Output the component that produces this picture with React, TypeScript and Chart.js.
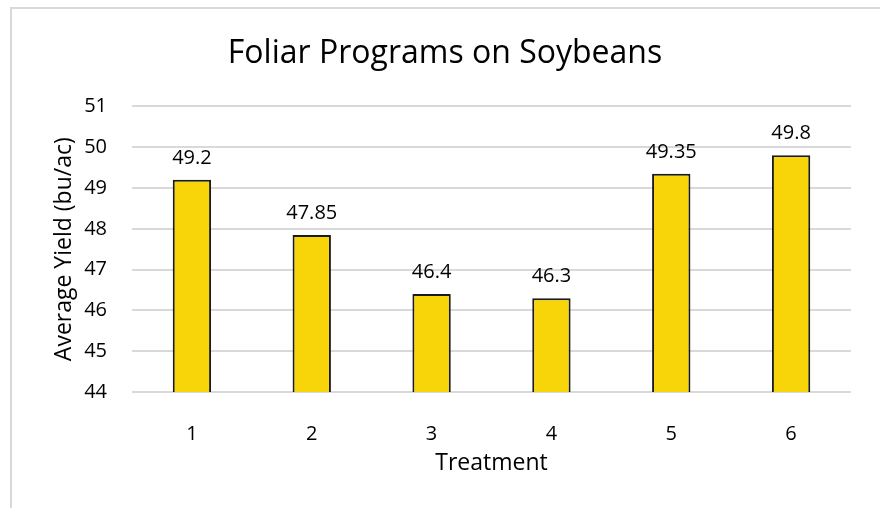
import React, { useEffect, useRef } from "react";
import { Chart, registerables } from "chart.js";

Chart.register(...registerables);

const categories = ["1", "2", "3", "4", "5", "6"];
const yieldValues = [49.2, 47.85, 46.4, 46.3, 49.35, 49.8];
const yMin = 44;
const yMax = 51;
const chartTitle = "Foliar Programs on Soybeans";
const xTitle = "Treatment";
const yTitle = "Average Yield (bu/ac)";

const FONT = "'Open Sans', 'Liberation Sans', sans-serif";
const TEXT = "#000000";

const framePlugin = {
  id: "frame",
  beforeDraw(chart: any) {
    const ctx = chart.ctx;
    ctx.save();
    ctx.fillStyle = "#ffffff";
    ctx.fillRect(0, 0, chart.width, chart.height);
    ctx.strokeStyle = "#d9d9d9";
    ctx.lineWidth = 2;
    ctx.beginPath();
    ctx.moveTo(11, chart.height);
    ctx.lineTo(11, 8);
    ctx.lineTo(chart.width, 8);
    ctx.stroke();
    ctx.restore();
  },
};

const valueLabels = {
  id: "valueLabels",
  afterDatasetsDraw(chart: any) {
    const ctx = chart.ctx;
    ctx.save();
    ctx.font = `20px ${FONT}`;
    ctx.fillStyle = TEXT;
    ctx.textAlign = "center";
    ctx.textBaseline = "alphabetic";
    chart.data.datasets.forEach((ds: any, di: number) => {
      const meta = chart.getDatasetMeta(di);
      meta.data.forEach((el: any, i: number) => {
        ctx.fillText(String(ds.data[i]), el.x, el.y - 16);
      });
    });
    ctx.restore();
  },
};

export default function App() {
  const ref = useRef<HTMLCanvasElement | null>(null);
  useEffect(() => {
    if (!ref.current) return;
    const chart = new Chart(ref.current, {
      type: "bar",
      data: {
        labels: categories,
        datasets: [
          {
            data: yieldValues,
            backgroundColor: "#f8d508",
            borderColor: "#1a1a1a",
            borderWidth: 2,
            borderSkipped: "start",
            barPercentage: 0.32,
            categoryPercentage: 1,
          },
        ],
      },
      options: {
        responsive: false,
        animation: false,
        layout: { padding: { left: 39, right: 29, top: 0, bottom: 0 } },
        plugins: {
          legend: { display: false },
          tooltip: { enabled: false },
          title: {
            display: true,
            text: chartTitle,
            color: "#000000",
            font: { family: FONT, size: 32, weight: "normal", lineHeight: 1.2 },
            padding: { top: 35, bottom: 33 },
          },
        },
        scales: {
          x: {
            grid: { display: false },
            border: { display: false },
            ticks: {
              color: TEXT,
              font: { family: FONT, size: 20 },
              padding: 22,
            },
            title: {
              display: true,
              text: xTitle,
              color: TEXT,
              font: { family: FONT, size: 23, lineHeight: 1.2 },
              padding: { top: 0, bottom: 31 },
            },
            afterFit(scale: any) {
              scale.height = 116;
            },
          },
          y: {
            min: yMin,
            max: yMax,
            grid: { color: "#d9d9d9", lineWidth: 2, drawTicks: false },
            border: { display: false },
            ticks: {
              stepSize: 1,
              color: TEXT,
              font: { family: FONT, size: 20 },
              padding: 25,
            },
            title: {
              display: true,
              text: yTitle,
              color: TEXT,
              font: { family: FONT, size: 23, lineHeight: 1.2 },
              padding: { top: 12, bottom: 0 },
            },
            afterFit(scale: any) {
              scale.width = 93;
            },
          },
        },
      },
      plugins: [framePlugin, valueLabels],
    });
    return () => chart.destroy();
  }, []);
  return (
    <div style={{ position: "fixed", left: 0, top: 0, width: 880, height: 508, background: "#fff" }}>
      <canvas ref={ref} width={880} height={508} style={{ display: "block" }} />
    </div>
  );
}
